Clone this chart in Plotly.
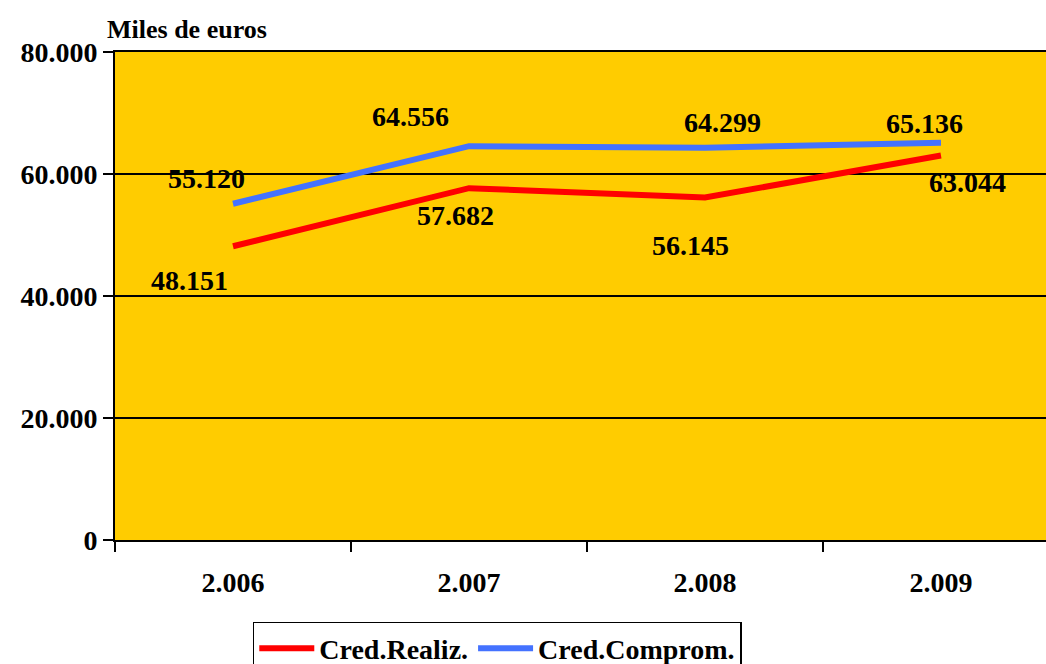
import plotly.graph_objects as go

years = ["2.006", "2.007", "2.008", "2.009"]
cred_realiz = [48151, 57682, 56145, 63044]
cred_comprom = [55120, 64556, 64299, 65136]
realiz_labels = ["48.151", "57.682", "56.145", "63.044"]
comprom_labels = ["55.120", "64.556", "64.299", "65.136"]
y_ticks = [0, 20000, 40000, 60000, 80000]
y_tick_labels = ["0", "20.000", "40.000", "60.000", "80.000"]

# label offsets (pixels) relative to each point, mimicking the original
realiz_shift = [(-44, -34), (-13, -27), (-14, -48), (27, -27)]
comprom_shift = [(-27, 25), (-58, 30), (18, 25), (-16, 19)]

FONT = "Liberation Serif"
RED = "#FF0000"
BLUE = "#4472FF"

fig = go.Figure()
fig.add_trace(go.Scatter(x=years, y=cred_realiz, mode="lines", name="Cred.Realiz.",
                         line=dict(color=RED, width=6)))
fig.add_trace(go.Scatter(x=years, y=cred_comprom, mode="lines", name="Cred.Comprom.",
                         line=dict(color=BLUE, width=6)))

for ys, labs, shifts in [(cred_realiz, realiz_labels, realiz_shift),
                         (cred_comprom, comprom_labels, comprom_shift)]:
    for i, (y, t, (dx, dy)) in enumerate(zip(ys, labs, shifts)):
        fig.add_annotation(x=i, y=y, text=t, showarrow=False, xshift=dx, yshift=dy,
                           font=dict(family=FONT, size=28, color="black", weight="bold"))

fig.add_annotation(xref="paper", yref="paper", x=-0.0107, y=1, xanchor="left",
                   yanchor="bottom", yshift=6, text="Miles de euros", showarrow=False,
                   font=dict(family=FONT, size=26, color="black", weight="bold"))

fig.update_layout(
    width=1046, height=664,
    margin=dict(l=115, r=0, t=52, b=124, autoexpand=False),
    paper_bgcolor="white",
    plot_bgcolor="#FFCC00",
    showlegend=True,
    legend=dict(orientation="h", x=0.148, xanchor="left", y=-0.168, yanchor="top",
                bordercolor="black", borderwidth=1.5, bgcolor="white",
                font=dict(family=FONT, size=28, color="black", weight="bold"),
                itemwidth=55, tracegroupgap=0),
    xaxis=dict(type="category", range=[-0.5, 3.445], tickson="boundaries",
               ticks="outside", ticklen=10, tickwidth=2, tickcolor="black",
               showgrid=False, showline=True, linecolor="black", linewidth=2,
               mirror=True, zeroline=False, automargin=False,
               tickfont=dict(family=FONT, size=28, color="black", weight="bold"),
               ticklabelstandoff=16),
    yaxis=dict(range=[0, 80000], tickvals=y_ticks, ticktext=y_tick_labels,
               ticks="outside", ticklen=10, tickwidth=1.5, tickcolor="black",
               showgrid=True, gridcolor="black", gridwidth=1.5, automargin=False,
               showline=True, linecolor="black", linewidth=2, zeroline=False,
               tickfont=dict(family=FONT, size=28, color="black", weight="bold")),
)

fig.write_html("out.html", config={"displayModeBar": False},
               post_script="document.body.style.margin='0';document.body.style.overflow='hidden';")
